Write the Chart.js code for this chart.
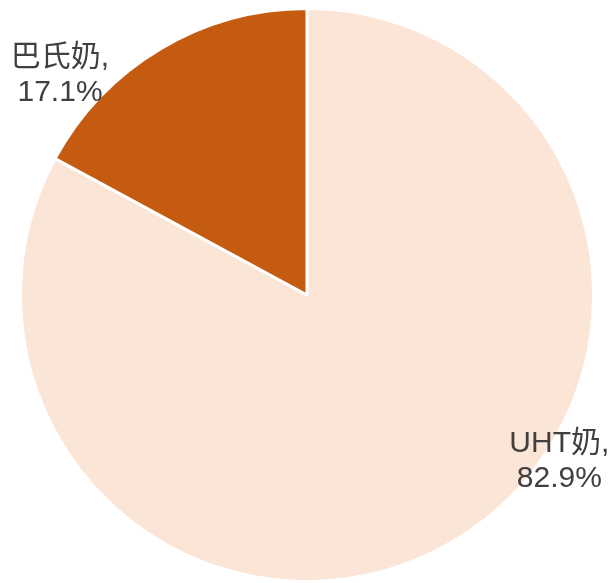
<!DOCTYPE html>
<html>
<head>
<meta charset="utf-8">
<script src="https://cdn.jsdelivr.net/npm/chart.js@4/dist/chart.umd.min.js"></script>
<style>
  html, body { margin: 0; padding: 0; background: #fff; }
  #wrap { width: 615px; height: 583px; }
</style>
</head>
<body>
<div id="wrap"><canvas id="myChart"></canvas></div>
<script>
var categories = ["UHT奶", "巴氏奶"];
var shares = [82.9, 17.1];
var sliceColors = ["#FBE5D6", "#C55A11"];

// where each label sits: angle from 12 o'clock (deg, clockwise) and distance in radii
var labelSpots = [
  { angle: 123, dist: 1.05 },
  { angle: -48, dist: 1.16 }
];

var pieLabels = {
  id: "pieLabels",
  afterDraw: function (chart) {
    var ctx = chart.ctx;
    var meta = chart.getDatasetMeta(0);
    ctx.save();
    ctx.font = '30px "Liberation Sans", Arial, "Noto Sans CJK SC", sans-serif';
    ctx.fillStyle = "#404040";
    ctx.textAlign = "center";
    ctx.textBaseline = "middle";
    meta.data.forEach(function (arc, i) {
      var a = labelSpots[i].angle * Math.PI / 180;
      var r = arc.outerRadius * labelSpots[i].dist;
      var x = arc.x + r * Math.sin(a);
      var y = arc.y - r * Math.cos(a);
      ctx.fillText(categories[i] + ",", x, y - 15);
      ctx.fillText(shares[i].toFixed(1) + "%", x, y + 20);
    });
    ctx.restore();
  }
};

var ctx = document.getElementById("myChart");
var myChart = new Chart(ctx, {
  type: "pie",
  data: {
    labels: categories,
    datasets: [
      {
        data: shares,
        backgroundColor: sliceColors,
        borderColor: "#ffffff",
        borderWidth: 3,
      },
    ],
  },
  options: {
    responsive: true,
    maintainAspectRatio: false,
    animation: false,
    layout: {
      padding: { left: 18, right: 19, top: 7, bottom: 0 },
    },
    plugins: {
      legend: { display: false },
      tooltip: { enabled: false },
    },
  },
  plugins: [pieLabels],
});
</script>
</body>
</html>
